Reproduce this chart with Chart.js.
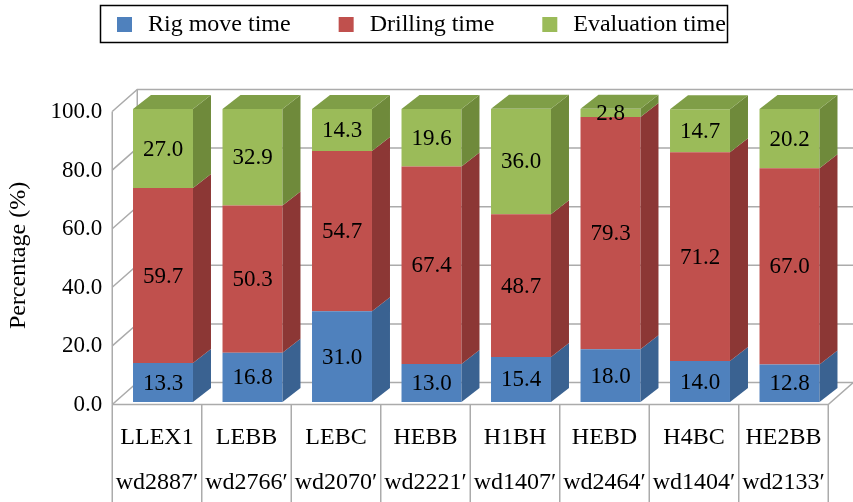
<!DOCTYPE html>
<html>
<head>
<meta charset="utf-8">
<script src="https://cdn.jsdelivr.net/npm/chart.js@4/dist/chart.umd.min.js"></script>
<style>
  html, body { margin: 0; padding: 0; background: #fff; }
  #wrap { position: relative; width: 853px; height: 502px; }
</style>
</head>
<body>
<div id="wrap"><canvas id="chart"></canvas></div>
<script>
// Well names and water depths (two-line category labels)
const wells = ['LLEX1', 'LEBB', 'LEBC', 'HEBB', 'H1BH', 'HEBD', 'H4BC', 'HE2BB'];
const waterDepths = ['wd2887\u2032', 'wd2766\u2032', 'wd2070\u2032', 'wd2221\u2032', 'wd1407\u2032', 'wd2464\u2032', 'wd1404\u2032', 'wd2133\u2032'];

// Share of total well time, %
const rigMoveTime = [13.3, 16.8, 31.0, 13.0, 15.4, 18.0, 14.0, 12.8];
const drillingTime = [59.7, 50.3, 54.7, 67.4, 48.7, 79.3, 71.2, 67.0];
const evaluationTime = [27.0, 32.9, 14.3, 19.6, 36.0, 2.8, 14.7, 20.2];

const yTicks = [0, 20, 40, 60, 80, 100];

const SERIF = "'Liberation Serif', 'Times New Roman', serif";

// face colours: front, side, top
const COLORS = {
    rig:   { front: '#4F81BD', side: '#3A6291', top: '#4572A8' },
    drill: { front: '#C0504D', side: '#8C3735', top: '#A84542' },
    eval:  { front: '#9BBB59', side: '#6F8A3B', top: '#7F9E47' }
};

// 3D geometry
const BAR_DX = 18, BAR_DY = -14;     // bar depth
const WALL_DX = 25, WALL_DY = -22;   // wall depth
const FRONT_DX = -6, FRONT_DY = 2.5; // front plane vs bar faces
const GRID = '#ABABAB';

const frame3d = {
    id: 'frame3d',
    beforeDatasetsDraw(chart) {
        const { ctx, chartArea, scales: { x, y } } = chart;
        const L = chartArea.left + FRONT_DX;
        const R = chartArea.right + FRONT_DX;
        const y0 = y.getPixelForValue(0) + FRONT_DY;
        const yTop = y.getPixelForValue(100) + FRONT_DY;
        ctx.save();
        ctx.strokeStyle = GRID;
        ctx.lineWidth = 1.5;

        // back wall + left wall grid
        yTicks.forEach(v => {
            const py = y.getPixelForValue(v) + FRONT_DY;
            ctx.beginPath();
            ctx.moveTo(L, py);
            ctx.lineTo(L + WALL_DX, py + WALL_DY);
            ctx.lineTo(R + WALL_DX, py + WALL_DY);
            ctx.stroke();
        });

        // left wall edges
        ctx.beginPath();
        ctx.moveTo(L, y0);
        ctx.lineTo(L, yTop);
        ctx.moveTo(L + WALL_DX, y0 + WALL_DY);
        ctx.lineTo(L + WALL_DX, yTop + WALL_DY);
        ctx.stroke();

        // floor
        ctx.beginPath();
        ctx.moveTo(L, y0);
        ctx.lineTo(R, y0);
        ctx.lineTo(R + WALL_DX, y0 + WALL_DY);
        ctx.stroke();

        // category table separators
        const catW = (chartArea.right - chartArea.left) / wells.length;
        ctx.beginPath();
        for (let i = 0; i <= wells.length; i++) {
            const px = L + i * catW;
            ctx.moveTo(px, y0);
            ctx.lineTo(px, chart.height);
        }
        ctx.stroke();
        ctx.restore();
    },
    afterDatasetsDraw(chart) {
        const { ctx } = chart;
        const last = chart.data.datasets.length - 1;
        ctx.save();
        chart.data.datasets.forEach((ds, d) => {
            const meta = chart.getDatasetMeta(d);
            meta.data.forEach((bar, i) => {
                const { x, y, base, width } = bar.getProps(['x', 'y', 'base', 'width'], true);
                const left = x - width / 2, right = x + width / 2;

                // side face
                ctx.fillStyle = ds.sideColor;
                ctx.beginPath();
                ctx.moveTo(right, y);
                ctx.lineTo(right + BAR_DX, y + BAR_DY);
                ctx.lineTo(right + BAR_DX, base + BAR_DY);
                ctx.lineTo(right, base);
                ctx.closePath();
                ctx.fill();

                // top face on the last segment only
                if (d === last) {
                    ctx.fillStyle = ds.topColor;
                    ctx.beginPath();
                    ctx.moveTo(left, y);
                    ctx.lineTo(left + BAR_DX, y + BAR_DY);
                    ctx.lineTo(right + BAR_DX, y + BAR_DY);
                    ctx.lineTo(right, y);
                    ctx.closePath();
                    ctx.fill();
                }

                // value label
                ctx.fillStyle = '#000';
                ctx.font = '23px ' + SERIF;
                ctx.textAlign = 'center';
                ctx.textBaseline = 'middle';
                ctx.fillText(ds.data[i].toFixed(1), x, (y + base) / 2 + 1);
            });
        });
        ctx.restore();
    },
    afterDraw(chart) {
        // boxed legend across the top
        const { ctx } = chart;
        ctx.save();
        ctx.strokeStyle = '#000';
        ctx.lineWidth = 1.5;
        ctx.strokeRect(100.5, 5.5, 627, 37);
        ctx.font = '24px ' + SERIF;
        ctx.textBaseline = 'middle';
        ctx.textAlign = 'left';
        let lx = 117;
        chart.data.datasets.forEach(ds => {
            ctx.fillStyle = ds.backgroundColor;
            ctx.fillRect(lx, 17, 15, 15);
            ctx.fillStyle = '#000';
            ctx.fillText(ds.label, lx + 31, 25);
            lx += 31 + ctx.measureText(ds.label).width + 48;
        });
        ctx.restore();
    }
};

new Chart(document.getElementById('chart'), {
    type: 'bar',
    data: {
        labels: wells.map((w, i) => [w, waterDepths[i]]),
        datasets: [
            { label: 'Rig move time', data: rigMoveTime, backgroundColor: COLORS.rig.front, sideColor: COLORS.rig.side, topColor: COLORS.rig.top },
            { label: 'Drilling time', data: drillingTime, backgroundColor: COLORS.drill.front, sideColor: COLORS.drill.side, topColor: COLORS.drill.top },
            { label: 'Evaluation time', data: evaluationTime, backgroundColor: COLORS.eval.front, sideColor: COLORS.eval.side, topColor: COLORS.eval.top }
        ]
    },
    plugins: [frame3d],
    options: {
        responsive: true,
        maintainAspectRatio: false,
        animation: false,
        layout: { padding: { top: 109, right: 18.75, left: 0, bottom: 0 } },
        datasets: { bar: { categoryPercentage: 1, barPercentage: 0.67, borderWidth: 0 } },
        plugins: {
            legend: { display: false },
            tooltip: { enabled: false }
        },
        scales: {
            x: {
                stacked: true,
                grid: { display: false, drawTicks: false },
                border: { display: false },
                afterFit: s => { s.height = 100; },
                ticks: {
                    color: '#000',
                    padding: 13.5,
                    labelOffset: -6,
                    maxRotation: 0,
                    autoSkip: false,
                    font: { family: SERIF, size: 24, lineHeight: 1.875 }
                }
            },
            y: {
                stacked: true,
                min: 0,
                max: 100,
                grid: { display: false, drawTicks: false },
                border: { display: false },
                afterFit: s => { s.width = 118.25; },
                afterBuildTicks: s => { s.ticks = yTicks.map(v => ({ value: v })); },
                ticks: {
                    color: '#000',
                    padding: 16,
                    labelOffset: 3,
                    font: { family: SERIF, size: 23 },
                    callback: v => Number(v).toFixed(1)
                },
                title: {
                    display: true,
                    text: 'Percentage (%)',
                    color: '#000',
                    padding: { top: 4, bottom: 0 },
                    font: { family: SERIF, size: 24 }
                }
            }
        }
    }
});
</script>
</body>
</html>
